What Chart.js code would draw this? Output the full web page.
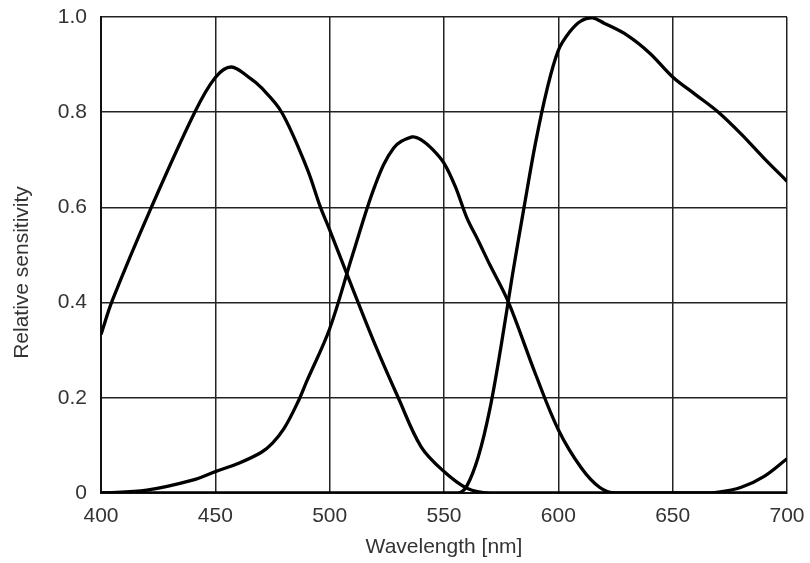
<!DOCTYPE html>
<html>
<head>
<meta charset="utf-8">
<script src="https://cdn.jsdelivr.net/npm/chart.js@4/dist/chart.umd.min.js"></script>
<style>
  html, body { margin: 0; padding: 0; background: #fff; }
  #wrap { width: 810px; height: 563px; }
</style>
</head>
<body>
<div id="wrap"><canvas id="chart" width="810" height="563"></canvas></div>
<script>
// Wavelengths (nm) and relative sensitivity
const blueWl  = [400, 405, 422, 441, 450, 457, 465, 470, 479, 490, 496, 500, 510, 520, 530, 540, 550, 560, 570, 660, 670, 680, 690, 700];
const blueVal = [0.333, 0.405, 0.6, 0.8, 0.873, 0.895, 0.872, 0.852, 0.8, 0.683, 0.6, 0.553, 0.43, 0.31, 0.2, 0.097, 0.045, 0.01, 0, 0, 0.002, 0.012, 0.035, 0.072];

const greenWl  = [400, 420, 440, 450, 460, 470, 475, 480, 486, 490, 500, 510, 520, 528, 536, 540, 545, 550, 555, 560, 565, 570, 578, 590, 600, 610, 618, 625, 700];
const greenVal = [0, 0.006, 0.027, 0.045, 0.062, 0.085, 0.105, 0.135, 0.19, 0.235, 0.345, 0.5, 0.648, 0.725, 0.748, 0.742, 0.722, 0.693, 0.643, 0.578, 0.53, 0.48, 0.403, 0.25, 0.133, 0.053, 0.012, 0, 0];

const redWl  = [400, 556, 560, 565, 570, 575, 580, 585, 590, 595, 600, 605, 610, 615, 620, 630, 640, 650, 660, 670, 680, 690, 700];
const redVal = [0, 0, 0.015, 0.076, 0.175, 0.31, 0.46, 0.6, 0.735, 0.847, 0.93, 0.969, 0.992, 0.998, 0.987, 0.962, 0.924, 0.874, 0.837, 0.8, 0.754, 0.703, 0.655];

const xTicks = [400, 450, 500, 550, 600, 650, 700];
const yTicks = [0, 0.2, 0.4, 0.6, 0.8, 1.0];

const pts = (wl, v) => wl.map((x, i) => ({ x, y: v[i] }));

const txtFont = { family: "'Liberation Sans', Arial, sans-serif", size: 21 };
const txtColor = '#333';

function curve(label, wl, v) {
  return {
    label,
    data: pts(wl, v),
    borderColor: '#000',
    borderWidth: 3.3,
    pointRadius: 0,
    fill: false,
    tension: 0.35
  };
}

new Chart(document.getElementById('chart'), {
  type: 'line',
  data: {
    datasets: [
      curve('B', blueWl, blueVal),
      curve('G', greenWl, greenVal),
      curve('R', redWl, redVal)
    ]
  },
  options: {
    responsive: false,
    animation: false,
    layout: { padding: { top: 17, right: 23, left: 10, bottom: 0 } },
    plugins: { legend: { display: false }, tooltip: { enabled: false } },
    scales: {
      x: {
        type: 'linear',
        min: 400, max: 700,
        afterBuildTicks: s => { s.ticks = xTicks.map(v => ({ value: v })); },
        afterFit: s => { s.height = 70; s.paddingLeft = 0; s.paddingRight = 0; },
        grid: { color: '#222', lineWidth: 1.5, drawTicks: false },
        border: { color: '#111', width: 2 },
        ticks: { font: txtFont, color: txtColor, padding: 11, maxRotation: 0 },
        title: { display: true, text: 'Wavelength [nm]', font: txtFont, color: txtColor, padding: { top: 0, bottom: 3 } }
      },
      y: {
        min: 0, max: 1,
        afterBuildTicks: s => { s.ticks = yTicks.map(v => ({ value: v })); },
        afterFit: s => { s.width = 91; s.paddingTop = 0; s.paddingBottom = 0; },
        grid: { color: '#222', lineWidth: 1.5, drawTicks: false },
        border: { color: '#111', width: 2 },
        ticks: {
          font: txtFont, color: txtColor, padding: 14,
          callback: v => v === 0 ? '0' : v.toFixed(1)
        },
        title: { display: true, text: 'Relative sensitivity      ', font: txtFont, color: txtColor, padding: { top: 0, bottom: 0 } }
      }
    }
  }
});
</script>
</body>
</html>
